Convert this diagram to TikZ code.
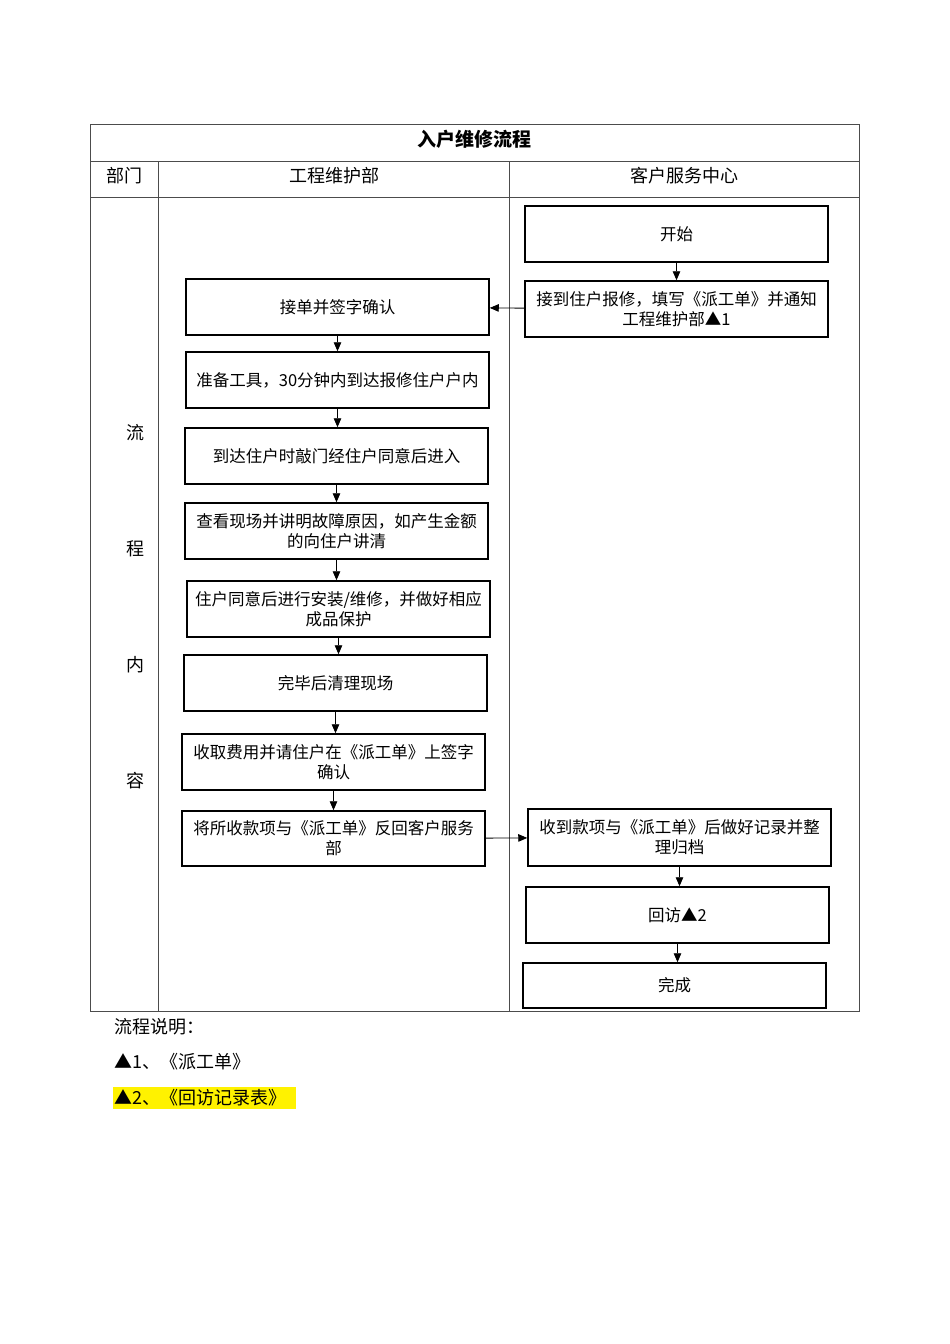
\documentclass[tikz,border=0pt]{standalone}
\usepackage{fontspec}
\setmainfont{Noto Sans CJK SC}
\usepackage{xcolor}
\usepackage{tikz}
\usetikzlibrary{arrows.meta, positioning, calc}

\begin{document}
\begin{tikzpicture}[
    x=1pt, y=-1pt,
    grid/.style={draw=black!70, line width=0.9pt},
    stepbox/.style={rectangle, draw, line width=1.5pt, minimum width=303pt, minimum height=56pt, align=center, font=\fontsize{16.5}{20}\selectfont, inner sep=2pt},
    head/.style={font=\fontsize{18}{22}\selectfont},
    arrow/.style={-{Triangle[length=9pt,width=7.5pt]}, line width=0.9pt}
]
\useasboundingbox (0,0) rectangle (950,1344);

% table frame
\draw[grid] (90,124) rectangle (859,1011);
\draw[grid] (90,161) -- (859,161);
\draw[grid] (90,197) -- (859,197);
\draw[grid] (158,161) -- (158,1011);
\draw[grid] (509,161) -- (509,1011);

\node[font=\fontsize{19}{22}\selectfont\bfseries] (title) at (474.5,139) {入户维修流程};
\node[head] (h-dept) at (124,176) {部门};
\node[head] (h-eng) at (334,176) {工程维护部};
\node[head] (h-cust) at (684,176) {客户服务中心};

\node[head] (c1) at (135,433) {流};
\node[head] (c2) at (135,549) {程};
\node[head] (c3) at (135,665) {内};
\node[head] (c4) at (135,781) {容};

% customer service column
\node[stepbox] (start) at (676.5,234) {开始};
\node[stepbox] (report) at (676.5,309) {接到住户报修，填写《派工单》并通知\\工程维护部▲1};
\node[stepbox, minimum height=57pt] (file) at (679.5,837.5) {收到款项与《派工单》后做好记录并整\\理归档};
\node[stepbox] (visit) at (677.5,915) {回访▲2};
\node[stepbox, minimum height=45pt] (done) at (674.5,985.5) {完成};

% engineering column
\node[stepbox] (accept) at (337.5,307) {接单并签字确认};
\node[stepbox] (prepare) at (337.5,380) {准备工具，30分钟内到达报修住户户内};
\node[stepbox] (arrive) at (336.5,456) {到达住户时敲门经住户同意后进入};
\node[stepbox] (inspect) at (336.5,531) {查看现场并讲明故障原因，如产生金额\\的向住户讲清};
\node[stepbox] (repair) at (338.5,609) {住户同意后进行安装/维修，并做好相应\\成品保护};
\node[stepbox] (clean) at (335.5,683) {完毕后清理现场};
\node[stepbox] (charge) at (333.5,762) {收取费用并请住户在《派工单》上签字\\确认};
\node[stepbox, minimum height=55pt] (return) at (333.5,838.5) {将所收款项与《派工单》反回客户服务\\部};

\draw[arrow] (start) -- (report);
\draw[arrow] (report) -- (accept);
\draw[arrow] (accept.south) -- (prepare.north -| accept.south);
\draw[arrow] (prepare.south) -- (arrive.north -| prepare.south);
\draw[arrow] (arrive.south) -- (inspect.north -| arrive.south);
\draw[arrow] (inspect.south) -- (repair.north -| inspect.south);
\draw[arrow] (repair.south) -- (clean.north -| repair.south);
\draw[arrow] (clean.south) -- (charge.north -| clean.south);
\draw[arrow] (charge.south) -- (return.north -| charge.south);
\draw[arrow] (return) -- (file);
\draw[arrow] (file.south) -- (visit.north -| file.south);
\draw[arrow] (visit.south) -- (done.north -| visit.south);

% notes
\fill[yellow] (113,1087) rectangle (296,1109);
\node[head, anchor=west, inner sep=0pt] (note) at (114,1027) {流程说明：};
\node[head, anchor=west, inner sep=0pt] (note1) at (114,1062) {▲1、《派工单》};
\node[head, anchor=west, inner sep=0pt] (note2) at (114,1098) {▲2、《回访记录表》};
\end{tikzpicture}
\end{document}
